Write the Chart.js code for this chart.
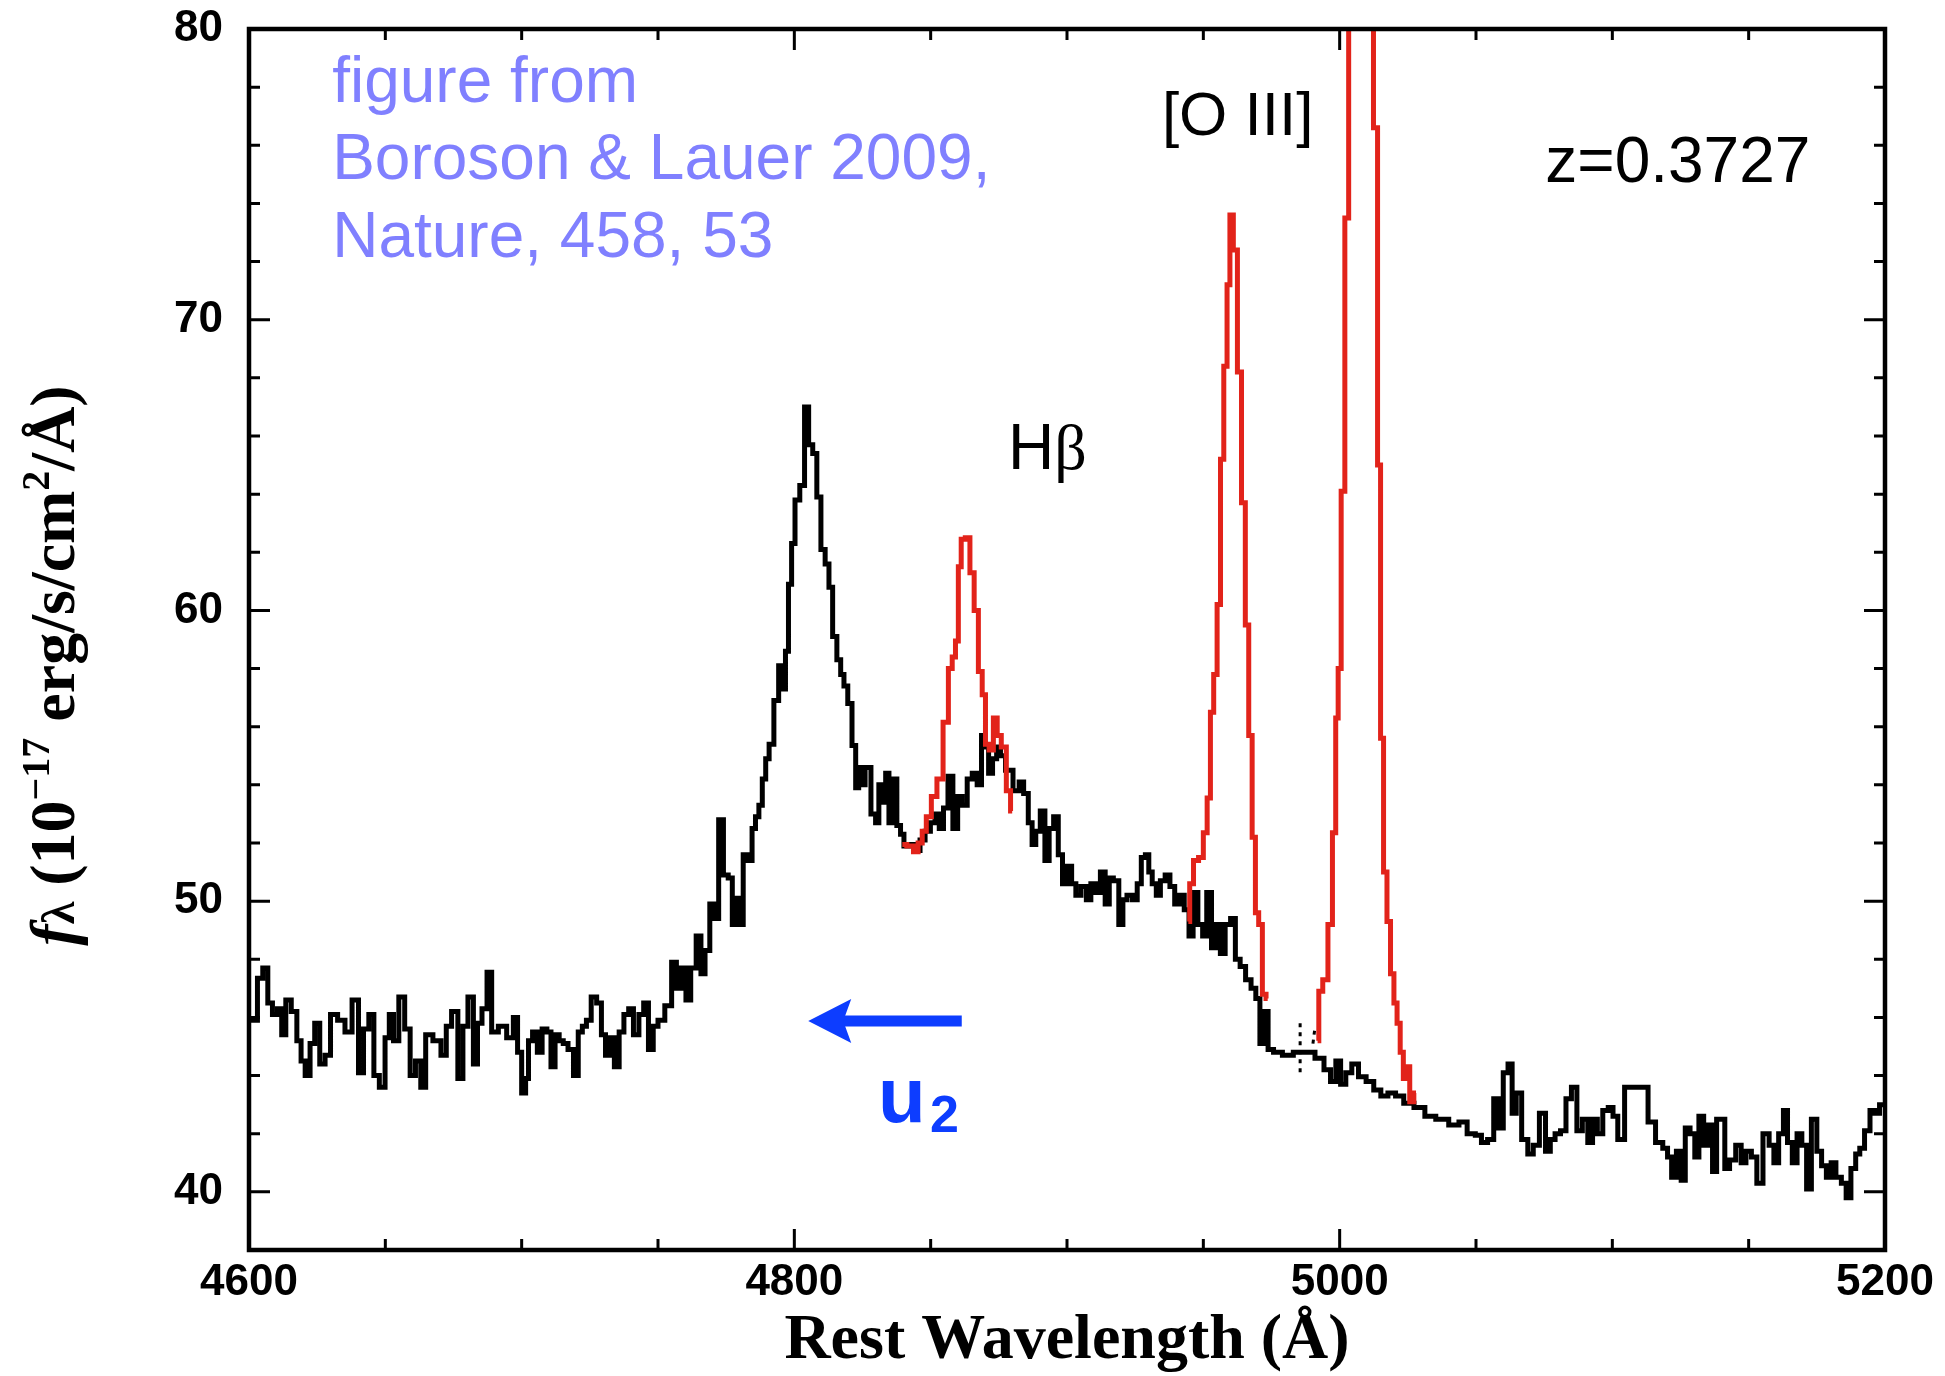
<!DOCTYPE html>
<html>
<head>
<meta charset="utf-8">
<title>Hbeta / [O III] spectrum, z=0.3727</title>
<script src="https://cdn.jsdelivr.net/npm/chart.js@4.4.1/dist/chart.umd.min.js"></script>
<style>
  html, body { margin: 0; padding: 0; background: #fff; }
  #wrap { position: relative; width: 1945px; height: 1376px; }
</style>
</head>
<body>
<div id="wrap"><canvas id="spec"></canvas></div>
<script>
// --- data (rest wavelength in A, flux in 1e-17 erg/s/cm2/A) ---

// broad spectrum (black histogram)
const contWave = [
  4600.0, 4602.2, 4604.0, 4606.1, 4607.7, 4609.5, 4611.4, 4612.6, 4614.4, 4616.6,
  4618.5, 4619.7, 4621.5, 4623.3, 4624.9, 4627.0, 4628.8, 4631.0, 4634.0, 4636.4,
  4639.2, 4641.1, 4642.9, 4645.0, 4646.6, 4649.0, 4650.8, 4652.1, 4653.9, 4656.0,
  4658.2, 4660.0, 4662.1, 4663.9, 4665.7, 4669.2, 4671.6, 4673.1, 4675.5, 4677.7,
  4679.2, 4681.4, 4683.2, 4684.4, 4686.5, 4688.1, 4689.9, 4693.0, 4696.0, 4697.9,
  4699.1, 4700.9, 4702.0, 4703.0, 4705.0, 4706.5, 4708.5, 4710.0, 4711.5, 4713.0,
  4714.5, 4716.0, 4718.0, 4720.0, 4721.5, 4723.0, 4724.5, 4726.5, 4728.5, 4730.0,
  4731.5, 4733.0, 4735.0, 4736.5, 4738.5, 4740.0, 4742.0, 4744.0, 4745.5, 4747.5,
  4749.0, 4751.0, 4754.0, 4756.0, 4757.5, 4759.5, 4761.0, 4763.0, 4765.0, 4766.5,
  4768.0, 4770.0, 4771.5, 4773.0, 4775.0, 4776.5, 4778.0, 4779.5, 4780.5, 4782.0,
  4784.0, 4785.0, 4786.5, 4787.5, 4789.0, 4790.0, 4791.5, 4793.5, 4795.0, 4796.3,
  4797.2, 4798.5, 4799.5, 4801.0, 4803.0, 4804.5, 4806.0, 4807.5, 4809.0, 4810.5,
  4812.1, 4813.3, 4814.8, 4816.4, 4817.6, 4818.8, 4820.4, 4821.9, 4823.1, 4824.1,
  4824.9, 4827.0, 4829.2, 4830.4, 4831.6, 4832.9, 4834.1, 4835.3, 4836.9, 4838.3,
  4839.6, 4840.8, 4842.9, 4845.3, 4846.9, 4849.0, 4850.8, 4852.4, 4853.9, 4855.5,
  4857.2, 4859.1, 4860.7, 4862.4, 4864.4, 4866.1, 4868.0, 4869.3, 4870.5, 4872.0,
  4873.4, 4875.0, 4876.2, 4878.7, 4881.7, 4883.2, 4885.0, 4886.6, 4887.8, 4889.3,
  4891.1, 4892.7, 4894.2, 4896.0, 4897.6, 4899.1, 4900.9, 4902.5, 4904.0, 4906.2,
  4908.0, 4909.5, 4911.5, 4913.0, 4915.0, 4916.0, 4918.0, 4920.0, 4921.0, 4923.0,
  4925.0, 4926.5, 4928.0, 4929.5, 4930.5, 4932.0, 4933.5, 4935.0, 4937.0, 4938.5,
  4940.5, 4942.0, 4944.0, 4945.5, 4947.0, 4949.0, 4950.5, 4952.0, 4954.0, 4955.5,
  4957.0, 4959.0, 4961.0, 4962.5, 4964.5, 4966.5, 4968.5, 4970.0, 4971.5, 4973.0,
  4974.5, 4977.0, 4981.0, 4985.0, 4989.0, 4992.9, 4995.6, 4997.7, 4999.5, 5001.2,
  5003.3, 5005.6, 5008.2, 5011.2, 5013.8, 5016.4, 5019.0, 5022.0, 5025.0, 5029.5,
  5033.0, 5037.5, 5042.5, 5045.0, 5048.5, 5051.0, 5053.0, 5055.5, 5057.5, 5059.0,
  5061.0, 5062.5, 5064.0, 5065.5, 5068.0, 5070.0, 5072.0, 5074.5, 5076.5, 5078.0,
  5080.0, 5082.0, 5084.0, 5086.0, 5088.0, 5090.0, 5092.0, 5093.5, 5095.5, 5097.5,
  5099.5, 5101.0, 5103.0, 5106.0, 5109.0, 5112.0, 5114.2, 5117.5, 5119.5, 5121.0,
  5122.5, 5124.5, 5126.0, 5127.5, 5129.5, 5131.0, 5132.5, 5134.5, 5136.0, 5137.5,
  5139.0, 5140.5, 5142.0, 5144.0, 5146.5, 5148.0, 5150.0, 5152.0, 5154.0, 5156.5,
  5158.5, 5160.0, 5162.0, 5163.5, 5165.0, 5167.0, 5168.5, 5170.5, 5172.0, 5174.0,
  5176.0, 5177.5, 5179.5, 5181.0, 5183.0, 5185.0, 5186.5, 5188.5, 5190.0, 5191.5,
  5193.5, 5195.5, 5197.0, 5199.0, 5200.0
];
const contFlux = [
  45.9, 45.9, 47.35, 47.7, 46.5, 46.1, 46.3, 45.4, 46.6, 46.2,
  45.2, 44.5, 44.0, 45.1, 45.8, 44.4, 44.7, 46.1, 45.9, 45.5,
  46.6, 44.1, 45.6, 46.1, 44.0, 43.6, 45.3, 46.1, 45.2, 46.7,
  45.6, 44.0, 44.5, 43.6, 45.4, 45.2, 44.7, 45.7, 46.2, 43.9,
  45.7, 46.7, 44.4, 45.8, 46.3, 47.55, 45.5, 45.7, 45.3, 46.0,
  44.8, 43.4, 43.9, 45.2, 45.5, 44.8, 45.6, 45.5, 44.3, 45.4,
  45.2, 45.1, 44.9, 44.0, 45.5, 45.7, 45.9, 46.7, 46.5, 45.4,
  44.7, 45.3, 44.3, 45.5, 46.1, 46.3, 45.4, 46.1, 46.5, 44.9,
  45.7, 45.9, 46.4, 47.9, 47.0, 47.7, 46.6, 47.7, 48.8, 47.5,
  48.3, 49.9, 49.4, 52.8, 50.9, 50.8, 49.2, 50.1, 49.2, 51.6,
  51.4, 52.5, 52.9, 53.3, 54.2, 54.9, 55.4, 56.9, 58.1, 57.3,
  58.6, 60.9, 62.3, 63.8, 64.3, 67.0, 65.7, 65.4, 63.9, 62.1,
  61.6, 60.8, 59.1, 58.3, 57.8, 57.4, 56.8, 55.35, 53.9, 54.6,
  54.0, 54.6, 53.0, 52.7, 54.0, 53.4, 54.4, 52.7, 54.2, 52.6,
  52.3, 51.9, 51.95, 51.74, 52.1, 52.4, 52.7, 53.0, 52.5, 53.2,
  54.3, 52.5, 53.6, 53.3, 54.2, 54.4, 54.0, 55.7, 55.3, 54.4,
  54.9, 55.3, 55.0, 54.5, 53.8, 54.1, 53.7, 52.7, 51.95, 52.4,
  53.1, 51.4, 52.5, 52.9, 51.6, 50.6, 51.2, 50.6, 50.2, 50.5,
  50.05, 50.6, 50.3, 51.0, 49.9, 50.8, 50.7, 49.2, 50.05, 50.2,
  50.05, 50.6, 51.5, 51.6, 51.0, 50.6, 50.2, 50.7, 50.9, 50.5,
  49.9, 50.2, 49.7, 48.8, 50.3, 49.2, 48.8, 50.3, 48.4, 49.2,
  48.2, 49.2, 49.4, 48.0, 47.75, 47.3, 47.0, 46.65, 45.1, 46.2,
  44.9, 44.8, 44.7, 44.8, 44.8, 44.6, 44.2, 43.8, 44.5, 43.7,
  44.1, 44.4, 43.96, 43.8, 43.5, 43.3, 43.4, 43.3, 43.05, 42.9,
  42.6, 42.5, 42.3, 42.4, 42.0, 41.95, 41.7, 41.8, 43.2, 42.2,
  44.1, 44.4, 42.7, 43.4, 41.8, 41.3, 41.6, 42.7, 41.4, 41.8,
  42.0, 42.1, 43.2, 43.6, 42.1, 42.5, 41.7, 42.5, 42.0, 42.8,
  42.9, 42.6, 41.8, 43.6, 43.6, 43.6, 42.4, 41.7, 41.5, 41.2,
  40.5, 41.4, 40.4, 42.2, 42.0, 41.2, 42.6, 41.6, 42.3, 40.7,
  42.5, 42.5, 40.8, 41.1, 41.6, 41.0, 41.4, 41.2, 40.3, 42.0,
  41.6, 41.0, 42.0, 42.8, 41.7, 41.0, 42.0, 41.6, 40.1, 42.5,
  41.4, 40.9, 40.5, 41.0, 40.5, 40.3, 39.8, 40.8, 41.3, 41.5,
  42.1, 42.8, 42.7, 43.0, 43.0
];

// narrow Hbeta (red)
const hbWave = [4839.6, 4842.9, 4844.5, 4846.3, 4847.5, 4849.3, 4851.2, 4853.4, 4855.7, 4857.3,
  4858.5, 4859.7, 4860.6, 4861.8, 4863.6, 4865.2, 4866.7, 4868.3, 4869.5, 4870.7,
  4872.2, 4873.8, 4875.0, 4876.8, 4878.7, 4879.9];
const hbFlux = [51.95, 51.9, 51.7, 52.0, 52.4, 52.9, 53.6, 54.2, 56.15, 58.0,
  58.4, 58.95, 61.5, 62.45, 62.5, 61.3, 60.0, 57.9, 57.1, 55.4,
  55.2, 56.3, 55.7, 55.3, 53.8, 53.1];

// [O III] 4959 (red)
const o3aWave = [4944.5, 4945.5, 4947.3, 4949.2, 4950.8, 4952.0, 4953.2, 4954.4, 4955.7, 4956.9,
  4958.1, 4959.3, 4960.2, 4961.8, 4963.2, 4964.8, 4966.0, 4967.3, 4968.5, 4969.7,
  4970.9, 4972.4, 4973.6];
const o3aFlux = [49.3, 50.6, 51.4, 51.5, 52.35, 53.55, 56.5, 57.8, 60.2, 65.2,
  68.4, 71.2, 73.6, 72.4, 68.2, 63.7, 59.5, 55.7, 52.2, 49.6,
  49.2, 46.8, 46.65];

// [O III] 5007 (red) - peak runs off the top of the plot, top values estimated
const o3bWave = [4991.9, 4992.8, 4994.8, 4996.6, 4998.1, 4999.0, 4999.9, 5001.2, 5002.6, 5004.0,
  5005.5, 5007.0, 5008.5, 5010.0, 5011.5, 5013.3, 5014.5, 5015.5, 5016.7, 5018.0,
  5019.3, 5020.5, 5021.6, 5022.8, 5023.9, 5025.0, 5026.4, 5028.0];
const o3bFlux = [45.2, 46.9, 47.3, 49.2, 52.35, 56.3, 58.0, 64.1, 73.5, 96,
  112, 120, 116, 104, 90, 76.6, 65.0, 55.6, 51.0, 49.3,
  47.5, 46.5, 45.8, 44.8, 43.9, 44.3, 43.1, 43.4];

// short dotted bridge near 4988 A
const gapWave = [4985.5, 4985.5, 4988.0, 4990.2, 4991.0];
const gapFlux = [45.8, 43.96, null, 45.1, 45.7];

// axes
const xTicks = [4600, 4800, 5000, 5200];
const yTicks = [40, 50, 60, 70, 80];
const xMinorStep = 50;
const yMinorStep = 2;

// annotation text
const creditLines = ['figure from', 'Boroson & Lauer 2009,', 'Nature, 458, 53'];

// --- styling ---
const SANS = '"Liberation Sans", Arial, Helvetica, sans-serif';
const SERIF = '"Liberation Serif", "Times New Roman", Times, serif';
const RED = '#e2231a';
const NOTE_BLUE = '#8080ff';
const ARROW_BLUE = '#0d3dff';

function pts(w, f) {
  return w.map((x, i) => ({ x: x, y: f[i] }));
}

// frame + inward ticks on all four sides
const axisFrame = {
  id: 'axisFrame',
  afterDatasetsDraw(chart) {
    const { ctx, chartArea: a } = chart;
    const xs = chart.scales.x, ys = chart.scales.y;
    ctx.save();
    ctx.strokeStyle = '#000';
    ctx.lineCap = 'butt';
    ctx.lineWidth = 3;
    ctx.beginPath();
    for (let v = xs.min + xMinorStep; v < xs.max; v += xMinorStep) {
      const px = xs.getPixelForValue(v);
      const len = xTicks.includes(v) ? 21 : 11;
      ctx.moveTo(px, a.bottom); ctx.lineTo(px, a.bottom - len);
      ctx.moveTo(px, a.top); ctx.lineTo(px, a.top + len);
    }
    let v0 = Math.ceil(ys.min / yMinorStep) * yMinorStep;
    if (v0 <= ys.min) v0 += yMinorStep;
    for (let v = v0; v < ys.max; v += yMinorStep) {
      const py = ys.getPixelForValue(v);
      const len = yTicks.includes(v) ? 21 : 11;
      ctx.moveTo(a.left, py); ctx.lineTo(a.left + len, py);
      ctx.moveTo(a.right, py); ctx.lineTo(a.right - len, py);
    }
    ctx.stroke();
    ctx.lineWidth = 4.5;
    ctx.strokeRect(a.left, a.top, a.right - a.left, a.bottom - a.top);
    ctx.restore();
  }
};

// y-axis title (mixed italic / superscripts) and the in-plot labels
const notes = {
  id: 'notes',
  afterDraw(chart) {
    const { ctx, chartArea: a } = chart;
    const xs = chart.scales.x, ys = chart.scales.y;
    const X = v => xs.getPixelForValue(v);
    const Y = v => ys.getPixelForValue(v);
    ctx.save();
    ctx.textAlign = 'left';
    ctx.textBaseline = 'alphabetic';

    // y title
    const parts = [
      ['f', 'italic bold 64px ' + SERIF, 0],
      ['λ', 'bold 46px ' + SERIF, 0],
      [' (10', 'bold 64px ' + SERIF, 0],
      ['−17', 'bold 40px ' + SERIF, 25],
      [' erg/s/cm', 'bold 64px ' + SERIF, 0],
      ['2', 'bold 40px ' + SERIF, 25],
      ['/Å)', 'bold 64px ' + SERIF, 0]
    ];
    let total = 0;
    parts.forEach(p => { ctx.font = p[1]; total += ctx.measureText(p[0]).width; });
    ctx.save();
    ctx.translate(a.left - 175, (a.top + a.bottom) / 2 + 26);
    ctx.rotate(-Math.PI / 2);
    ctx.fillStyle = '#000';
    let cx = -total / 2;
    parts.forEach(p => {
      ctx.font = p[1];
      ctx.fillText(p[0], cx, -p[2]);
      cx += ctx.measureText(p[0]).width;
    });
    ctx.restore();

    // credit
    ctx.fillStyle = NOTE_BLUE;
    ctx.font = '64px ' + SANS;
    const creditBase = [77.5, 74.85, 72.17];
    creditLines.forEach((t, i) => ctx.fillText(t, X(4630.5), Y(creditBase[i])));

    // line labels
    ctx.fillStyle = '#000';
    ctx.font = '62px ' + SANS;
    ctx.fillText('[O III]', X(4934.8), Y(76.36));
    ctx.font = '64px ' + SANS;
    ctx.fillText('z=0.3727', X(5075.4), Y(74.75));
    ctx.fillText('H', X(4878.4), Y(64.87));
    const hw = ctx.measureText('H').width;
    ctx.font = '64px ' + SERIF;
    ctx.fillText('β', X(4878.4) + hw, Y(64.87));

    // blue arrow and u2
    const tipX = X(4805.1), tailX = X(4861.4), ay = Y(45.88);
    ctx.strokeStyle = ARROW_BLUE;
    ctx.fillStyle = ARROW_BLUE;
    ctx.lineWidth = 11;
    ctx.beginPath();
    ctx.moveTo(tailX, ay);
    ctx.lineTo(tipX + 32, ay);
    ctx.stroke();
    ctx.beginPath();
    ctx.moveTo(tipX, ay);
    ctx.lineTo(tipX + 43, ay - 22);
    ctx.lineTo(tipX + 35, ay);
    ctx.lineTo(tipX + 43, ay + 22);
    ctx.closePath();
    ctx.fill();
    ctx.font = 'bold 78px ' + SANS;
    ctx.fillText('u', X(4830.7), Y(42.40));
    ctx.font = 'bold 52px ' + SANS;
    ctx.fillText('2', X(4849.8), Y(42.07));

    ctx.restore();
  }
};

const lineBase = { pointRadius: 0, borderWidth: 5, stepped: 'middle', tension: 0, fill: false, borderJoinStyle: 'miter' };

const chart = new Chart(document.getElementById('spec'), {
  type: 'line',
  data: {
    datasets: [
      Object.assign({ label: '[O III] 5007', data: pts(o3bWave, o3bFlux), borderColor: RED, order: 0 }, lineBase),
      Object.assign({ label: '[O III] 4959', data: pts(o3aWave, o3aFlux), borderColor: RED, order: 0 }, lineBase),
      Object.assign({ label: 'Hbeta narrow', data: pts(hbWave, hbFlux), borderColor: RED, order: 0 }, lineBase),
      { label: 'bridge', data: pts(gapWave, gapFlux), borderColor: '#000', borderWidth: 3,
        borderDash: [4, 5], pointRadius: 0, spanGaps: false, order: 1 },
      Object.assign({ label: 'spectrum', data: pts(contWave, contFlux), borderColor: '#000', order: 2 }, lineBase)
    ]
  },
  options: {
    responsive: true,
    maintainAspectRatio: false,
    animation: false,
    devicePixelRatio: 1,
    events: [],
    layout: { padding: { left: 0, top: 29, right: 60, bottom: 0 } },
    plugins: { legend: { display: false }, tooltip: { enabled: false } },
    scales: {
      x: {
        type: 'linear', min: 4600, max: 5200,
        afterFit: s => { s.height = 126; s.paddingLeft = 0; s.paddingRight = 0; },
        afterBuildTicks: s => { s.ticks = xTicks.map(v => ({ value: v })); },
        grid: { display: false, drawTicks: false },
        border: { display: false },
        ticks: { color: '#000', padding: 6, maxRotation: 0, autoSkip: false,
                 callback: v => String(v),
                 font: { family: SANS, size: 44, weight: 'bold' } },
        title: { display: true, text: 'Rest Wavelength (Å)', color: '#000',
                 font: { family: SERIF, size: 64, weight: 'bold', lineHeight: 1 },
                 padding: { top: 0, bottom: 3 } }
      },
      y: {
        type: 'linear', min: 38, max: 80,
        afterFit: s => { s.width = 249; s.paddingTop = 0; s.paddingBottom = 0; },
        afterBuildTicks: s => { s.ticks = yTicks.map(v => ({ value: v })); },
        grid: { display: false, drawTicks: false },
        border: { display: false },
        ticks: { color: '#000', padding: 26, callback: v => String(v),
                 font: { family: SANS, size: 44, weight: 'bold' } }
      }
    }
  },
  plugins: [axisFrame, notes]
});
</script>
</body>
</html>
